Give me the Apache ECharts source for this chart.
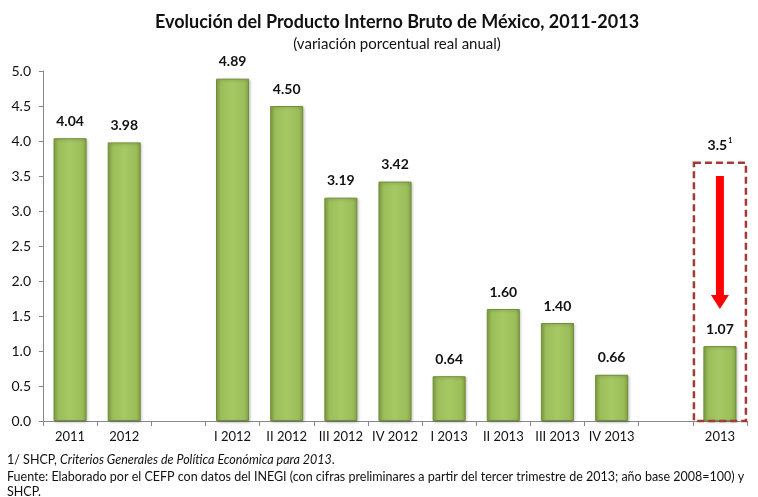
<!DOCTYPE html>
<html>
<head>
<meta charset="utf-8">
<script src="https://cdn.jsdelivr.net/npm/echarts@6/dist/echarts.min.js"></script>
<style>
  html, body { margin: 0; padding: 0; background: #fff; }
  #chart { width: 758px; height: 497px; }
</style>
</head>
<body>
<div id="chart"></div>
<script>
// categories ('' = empty slot between groups)
const categories = ['2011', '2012', '', 'I 2012', 'II 2012', 'III 2012', 'IV 2012',
  'I 2013', 'II 2013', 'III 2013', 'IV 2013', '', '2013'];
const pibValues = [4.04, 3.98, null, 4.89, 4.50, 3.19, 3.42, 0.64, 1.60, 1.40, 0.66, null, 1.07];
const yTicks = [0, 0.5, 1, 1.5, 2, 2.5, 3, 3.5, 4, 4.5, 5];

// 2013 estimate (SHCP) vs observed
const estCategory = '2013';
const estValue = 3.5;
const boxTop = 3.69;
const arrowFrom = 3.5;
const arrowTo = 1.6;

const FONT = 'Lato, "Open Sans", sans-serif';

const chart = echarts.init(document.getElementById('chart'));

const option = {
  animation: false,
  title: {
    text: 'Evolución del Producto Interno Bruto de México, 2011-2013',
    subtext: '(variación porcentual real anual)',
    left: 392, textAlign: 'center', top: 8, itemGap: 6,
    textStyle: { fontFamily: FONT, fontSize: 18, fontWeight: 'bold', color: '#111' },
    subtextStyle: { fontFamily: FONT, fontSize: 15, color: '#111' }
  },
  grid: { left: 43, right: 11, top: 71, bottom: 76 },
  xAxis: {
    type: 'category',
    data: categories,
    axisLine: { lineStyle: { color: '#888' } },
    axisTick: { show: true, length: 5, lineStyle: { color: '#888' } },
    axisLabel: { fontFamily: FONT, fontSize: 13, color: '#111', margin: 9, interval: 0 }
  },
  yAxis: {
    type: 'value',
    min: 0, max: 5, interval: 0.5,
    splitLine: { show: false },
    axisLine: { show: true, lineStyle: { color: '#888' } },
    axisTick: { show: true, length: 4, lineStyle: { color: '#888' } },
    axisLabel: {
      fontFamily: FONT, fontSize: 14, color: '#111', margin: 12,
      formatter: v => v.toFixed(1)
    }
  },
  series: [{
    type: 'bar',
    data: pibValues,
    barWidth: '61%',
    itemStyle: {
      color: new echarts.graphic.LinearGradient(0, 0, 1, 0, [
        { offset: 0, color: '#84a446' },
        { offset: 0.15, color: '#9cbe5a' },
        { offset: 0.5, color: '#a6c964' },
        { offset: 0.85, color: '#9cbe5a' },
        { offset: 1, color: '#84a446' }
      ]),
      borderColor: '#728f3b',
      borderWidth: 1,
      shadowColor: 'rgba(0,0,0,0.25)',
      shadowBlur: 3,
      shadowOffsetX: 1,
      shadowOffsetY: 1
    },
    label: {
      show: true,
      position: 'top',
      distance: 10,
      fontFamily: FONT,
      fontSize: 14,
      fontWeight: 'bold',
      color: '#111',
      formatter: p => p.value == null ? '' : p.value.toFixed(2)
    }
  }]
};
chart.setOption(option);

// overlay for the 2013 estimate: dashed box, arrow and "3.5¹" label
const idx = categories.lastIndexOf(estCategory);
const center = chart.convertToPixel({ gridIndex: 0 }, [idx, 0]);
const topPt = chart.convertToPixel({ gridIndex: 0 }, [idx, boxTop]);
const aFrom = chart.convertToPixel({ gridIndex: 0 }, [idx, arrowFrom]);
const aTo = chart.convertToPixel({ gridIndex: 0 }, [idx, arrowTo]);
const halfW = 26;
const cx = center[0];
const headH = 14, headW = 9, shaft = 4;

chart.setOption({
  graphic: [
    {
      type: 'rect',
      shape: { x: cx - halfW, y: topPt[1], width: halfW * 2, height: center[1] - topPt[1] },
      style: { fill: 'none', stroke: '#a33a36', lineWidth: 2.5, lineDash: [7, 4] },
      z: 10
    },
    {
      type: 'polygon',
      shape: {
        points: [
          [cx - shaft, aFrom[1]], [cx + shaft, aFrom[1]],
          [cx + shaft, aTo[1] - headH], [cx + headW, aTo[1] - headH],
          [cx, aTo[1]],
          [cx - headW, aTo[1] - headH], [cx - shaft, aTo[1] - headH]
        ]
      },
      style: { fill: '#ff0000' },
      z: 11
    },
    {
      type: 'text',
      x: cx, y: topPt[1] - 10,
      style: {
        text: '{v|' + estValue.toFixed(1) + '}{s|1}',
        rich: {
          v: { fontFamily: FONT, fontSize: 14, fontWeight: 'bold', fill: '#111' },
          s: { fontFamily: FONT, fontSize: 7, fontWeight: 'bold', fill: '#111', verticalAlign: 'top', padding: [0, 0, 8, 1] }
        },
        align: 'center', verticalAlign: 'bottom'
      },
      z: 11
    },
    {
      type: 'text', left: 7, top: 453,
      style: {
        text: '{n|1/ SHCP, }{i|Criterios Generales de Política Económica para 2013}{n|.}',
        rich: {
          n: { fontFamily: FONT, fontSize: 12.5, fill: '#111' },
          i: { fontFamily: FONT, fontSize: 12.5, fontStyle: 'italic', fill: '#111' }
        }
      }
    },
    {
      type: 'text', left: 7, top: 469,
      style: {
        text: 'Fuente: Elaborado por el CEFP con datos del INEGI (con cifras preliminares a partir del tercer trimestre de 2013; año base 2008=100) y\nSHCP.',
        fontFamily: FONT, fontSize: 12.5, fill: '#111', lineHeight: 15
      }
    }
  ]
});
</script>
</body>
</html>
